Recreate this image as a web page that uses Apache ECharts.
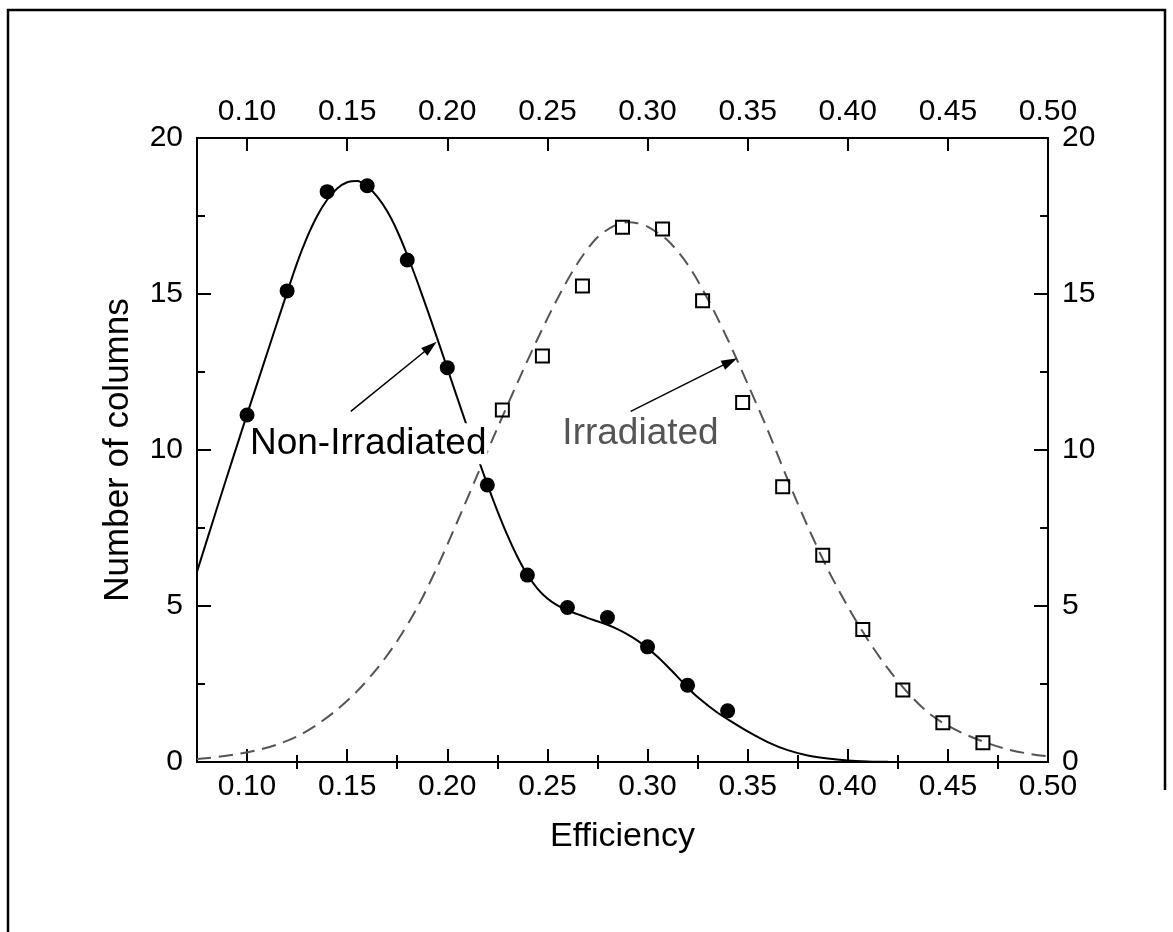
<!DOCTYPE html>
<html>
<head>
<meta charset="utf-8">
<script src="https://cdn.jsdelivr.net/npm/echarts@6/dist/echarts.min.js"></script>
<style>
html,body{margin:0;padding:0;background:#fff;}
#chart{width:1173px;height:932px;}
</style>
</head>
<body>
<div id="chart"></div>
<script>
// ---- data ----
const xMajorTicks = [0.10, 0.15, 0.20, 0.25, 0.30, 0.35, 0.40, 0.45, 0.50];
const xMinorTicks = [0.125, 0.175, 0.225, 0.275, 0.325, 0.375, 0.425, 0.475];

// Non-Irradiated measured points (filled circles)
const nonIrrX = [0.10, 0.12, 0.14, 0.16, 0.18, 0.20, 0.22, 0.24, 0.26, 0.28, 0.30, 0.32, 0.34];
const nonIrrY = [11.12, 15.10, 18.28, 18.47, 16.09, 12.64, 8.88, 5.99, 4.95, 4.63, 3.69, 2.46, 1.64];

// Irradiated measured points (open squares)
const irrX = [0.2275, 0.2475, 0.2675, 0.2875, 0.3075, 0.3275, 0.3475, 0.3675, 0.3875, 0.4075, 0.4275, 0.4475, 0.4675];
const irrY = [11.28, 13.01, 15.26, 17.14, 17.08, 14.78, 11.52, 8.82, 6.63, 4.25, 2.31, 1.26, 0.62];

// Non-Irradiated fitted curve (solid)
const nonIrrFitX = [0.075,0.080,0.085,0.090,0.095,0.100,0.105,0.110,0.115,0.120,0.125,0.130,0.135,0.140,0.145,0.150,0.155,0.160,0.165,0.170,0.175,0.180,0.185,0.190,0.195,0.200,0.205,0.210,0.215,0.220,0.225,0.230,0.235,0.240,0.245,0.250,0.255,0.260,0.265,0.270,0.275,0.280,0.285,0.290,0.295,0.300,0.305,0.310,0.315,0.320,0.325,0.330,0.335,0.340,0.350,0.360,0.370,0.380,0.390,0.400,0.410,0.420,0.430,0.460,0.500];
const nonIrrFitY = [6.10,7.12,8.14,9.15,10.15,11.14,12.12,13.10,14.08,15.05,16.00,16.82,17.50,18.02,18.38,18.58,18.62,18.45,18.12,17.65,17.02,16.25,15.40,14.50,13.57,12.62,11.67,10.73,9.80,8.90,8.05,7.27,6.58,6.00,5.56,5.24,5.02,4.86,4.74,4.62,4.51,4.40,4.26,4.09,3.89,3.65,3.37,3.06,2.73,2.39,2.08,1.82,1.58,1.37,0.98,0.64,0.38,0.21,0.11,0.05,0.02,0.005,0.00,0.00,0.00];

// Irradiated fitted curve (dashed)
const irrFitX = [0.075,0.085,0.095,0.105,0.115,0.125,0.135,0.145,0.155,0.165,0.175,0.185,0.195,0.205,0.215,0.225,0.235,0.245,0.255,0.265,0.275,0.285,0.290,0.295,0.300,0.310,0.320,0.330,0.340,0.350,0.360,0.370,0.380,0.390,0.400,0.410,0.420,0.430,0.440,0.450,0.460,0.470,0.480,0.490,0.500];
const irrFitY = [0.10,0.16,0.25,0.38,0.56,0.82,1.20,1.68,2.27,3.00,3.88,4.95,6.25,7.70,9.20,10.70,12.15,13.55,14.85,15.98,16.82,17.24,17.30,17.27,17.16,16.72,15.95,14.85,13.55,12.12,10.64,9.05,7.55,6.18,4.98,3.92,3.00,2.22,1.59,1.16,0.85,0.60,0.40,0.27,0.18];

// annotation texts and arrows (data coordinates)
const annoTexts = [
  {text: 'Non-Irradiated', x: 0.1605, y: 10.20, color: '#000'},
  {text: 'Irradiated', x: 0.2965, y: 10.52, color: '#555'}
];
const annoArrows = [
  {from: [0.1518, 11.24], to: [0.1916, 13.31]},
  {from: [0.2916, 11.24], to: [0.3412, 12.83]}
];

const zip = (a, b) => a.map((v, i) => [v, b[i]]);
const FONT = '"Liberation Sans", Arial, Helvetica, sans-serif';

const chart = echarts.init(document.getElementById('chart'), null, {renderer: 'canvas'});

const lineStyleAxis = {color: '#000', width: 2};
function xAxisMajor(pos, margin) {
  return {
    type: 'value', position: pos, min: 0.075, max: 0.5,
    axisLine: {show: true, onZero: false, lineStyle: lineStyleAxis},
    axisTick: {show: true, inside: true, length: 13, lineStyle: {color: '#000', width: 2}, customValues: xMajorTicks},
    axisLabel: {show: true, customValues: xMajorTicks, formatter: v => v.toFixed(2), fontSize: 30, fontFamily: FONT, color: '#000', margin: margin},
    splitLine: {show: false}
  };
}
function xAxisMinor(pos) {
  return {
    type: 'value', position: pos, min: 0.075, max: 0.5,
    axisLine: {show: false},
    axisTick: {show: true, inside: true, length: 7, lineStyle: {color: '#000', width: 2}, customValues: xMinorTicks},
    axisLabel: {show: false},
    splitLine: {show: false}
  };
}
function yAxisDef(pos) {
  return {
    type: 'value', position: pos, min: 0, max: 20, interval: 5,
    axisLine: {show: true, onZero: false, lineStyle: lineStyleAxis},
    axisTick: {show: true, inside: true, length: 14, lineStyle: {color: '#000', width: 2}},
    minorTick: {show: true, splitNumber: 2, length: 8, lineStyle: {color: '#000', width: 2}},
    axisLabel: {show: true, fontSize: 30, fontFamily: FONT, color: '#000', margin: 14},
    splitLine: {show: false},
    minorSplitLine: {show: false}
  };
}

const xBottom = xAxisMajor('bottom', 10);
xBottom.name = 'Efficiency';
xBottom.nameLocation = 'middle';
xBottom.nameGap = 58;
xBottom.nameTextStyle = {fontSize: 34, fontFamily: FONT, color: '#000'};
const xTop = xAxisMajor('top', 11);

const yLeft = yAxisDef('left');
yLeft.name = 'Number of columns';
yLeft.nameLocation = 'middle';
yLeft.nameGap = 61;
yLeft.nameRotate = 90;
yLeft.nameTextStyle = {fontSize: 35, fontFamily: FONT, color: '#000'};
const yRight = yAxisDef('right');

const option = {
  animation: false,
  backgroundColor: '#fff',
  grid: {left: 197, right: 125, top: 138, bottom: 170, containLabel: false},
  xAxis: [xBottom, xTop, xAxisMinor('bottom'), xAxisMinor('top')],
  yAxis: [yLeft, yRight],
  graphic: [{
    type: 'polyline', silent: true,
    shape: {points: [[8, 932], [8, 10], [1165, 10], [1165, 790]]},
    style: {stroke: '#000', lineWidth: 2.5, fill: null}
  }],
  series: [
    {
      name: 'Irradiated fit', type: 'line', xAxisIndex: 0, yAxisIndex: 0,
      data: zip(irrFitX, irrFitY), smooth: 0.3, showSymbol: false, clip: true,
      lineStyle: {color: '#555', width: 2, type: [14, 8]}, z: 2
    },
    {
      name: 'Non-Irradiated fit', type: 'line', xAxisIndex: 0, yAxisIndex: 0,
      data: zip(nonIrrFitX, nonIrrFitY), smooth: 0.3, showSymbol: false, clip: true,
      lineStyle: {color: '#000', width: 2}, z: 3
    },
    {
      name: 'Non-Irradiated', type: 'scatter', xAxisIndex: 0, yAxisIndex: 0,
      data: zip(nonIrrX, nonIrrY), symbol: 'circle', symbolSize: 15,
      itemStyle: {color: '#000', opacity: 1}, z: 4
    },
    {
      name: 'Irradiated', type: 'scatter', xAxisIndex: 0, yAxisIndex: 0,
      data: zip(irrX, irrY), symbol: 'rect', symbolSize: 13,
      itemStyle: {color: 'rgba(0,0,0,0)', borderColor: '#000', borderWidth: 2, opacity: 1}, z: 4
    },
    {
      name: 'annotations', type: 'scatter', xAxisIndex: 0, yAxisIndex: 0,
      data: annoTexts.map(a => ({
        value: [a.x, a.y],
        label: {show: true, position: 'inside', formatter: a.text, color: a.color,
          fontSize: 37, fontFamily: FONT, backgroundColor: '#fff', padding: [2, 1]}
      })),
      symbolSize: 1, itemStyle: {color: 'rgba(0,0,0,0)', opacity: 1}, silent: true, z: 10,
      markLine: {
        silent: true, animation: false,
        symbol: ['none', 'triangle'], symbolSize: [10, 16],
        label: {show: false},
        lineStyle: {color: '#000', width: 1.5, type: 'solid', opacity: 1},
        data: annoArrows.map(a => [{coord: a.from}, {coord: a.to}])
      }
    }
  ]
};
chart.setOption(option);
</script>
</body>
</html>
